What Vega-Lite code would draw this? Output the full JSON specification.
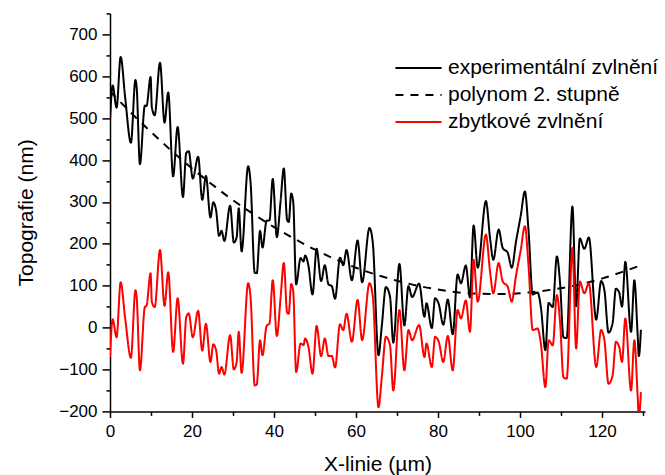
{
  "$schema": "https://vega.github.io/schema/vega-lite/v6.json",
  "width": 535,
  "height": 398,
  "autosize": {"type": "none"},
  "padding": {"left": 110, "top": 13.4, "right": 20, "bottom": 63.6},
  "background": "white",
  "config": {
    "view": {"stroke": null},
    "font": "Liberation Sans",
    "axis": {
      "grid": false,
      "domainColor": "black",
      "domainWidth": 1.5,
      "tickColor": "black",
      "tickWidth": 1.5,
      "labelColor": "black",
      "labelFont": "Liberation Sans",
      "labelFontSize": 17,
      "labelFlush": false,
      "labelOverlap": false,
      "titleColor": "black",
      "titleFont": "Liberation Sans",
      "titleFontSize": 21,
      "titleFontWeight": "normal"
    },
    "legend": {
      "orient": "none",
      "legendX": 298,
      "legendY": 44,
      "title": null,
      "labelFont": "Liberation Sans",
      "labelFontSize": 21,
      "labelColor": "black",
      "labelLimit": 400,
      "symbolType": "M-4,0L4,0",
      "symbolSize": 133,
      "symbolStrokeWidth": 2,
      "labelOffset": 19,
      "rowPadding": 5
    }
  },
  "datasets": {
    "exp": [
      {"x": 0, "y": 494}, {"x": 0.65, "y": 578}, {"x": 1.6, "y": 525}, {"x": 2.6, "y": 646}, {"x": 3.7, "y": 549},
      {"x": 5.1, "y": 441}, {"x": 6.2, "y": 591}, {"x": 6.5, "y": 574}, {"x": 7.3, "y": 390}, {"x": 8.5, "y": 530},
      {"x": 8.9, "y": 529}, {"x": 9.9, "y": 598}, {"x": 10.2, "y": 527}, {"x": 10.9, "y": 507}, {"x": 12.2, "y": 632},
      {"x": 13.3, "y": 489}, {"x": 14.2, "y": 561}, {"x": 15.4, "y": 361}, {"x": 16.5, "y": 479}, {"x": 17.8, "y": 312},
      {"x": 18.6, "y": 417}, {"x": 19.2, "y": 421}, {"x": 20.2, "y": 356}, {"x": 21.5, "y": 408}, {"x": 22.5, "y": 305},
      {"x": 23.4, "y": 362}, {"x": 24.5, "y": 263}, {"x": 25.2, "y": 299}, {"x": 25.9, "y": 279}, {"x": 26.6, "y": 219},
      {"x": 27.2, "y": 231}, {"x": 27.9, "y": 207}, {"x": 29.3, "y": 291}, {"x": 30.2, "y": 203}, {"x": 30.9, "y": 216},
      {"x": 31.4, "y": 285}, {"x": 32.1, "y": 182}, {"x": 33.7, "y": 385}, {"x": 34.3, "y": 345}, {"x": 35.3, "y": 131},
      {"x": 35.8, "y": 130}, {"x": 36.6, "y": 231}, {"x": 37.2, "y": 191}, {"x": 38.2, "y": 255}, {"x": 38.9, "y": 256},
      {"x": 39.7, "y": 355}, {"x": 40.7, "y": 216}, {"x": 41.6, "y": 301}, {"x": 42.4, "y": 380}, {"x": 43.2, "y": 257},
      {"x": 43.6, "y": 252}, {"x": 44.2, "y": 320}, {"x": 44.7, "y": 299}, {"x": 45.4, "y": 103}, {"x": 46.5, "y": 166},
      {"x": 47.2, "y": 158}, {"x": 47.6, "y": 172}, {"x": 48.4, "y": 148}, {"x": 49.4, "y": 79}, {"x": 50.4, "y": 188},
      {"x": 51.5, "y": 111}, {"x": 52.4, "y": 149}, {"x": 53.3, "y": 103}, {"x": 54.1, "y": 99}, {"x": 54.9, "y": 69},
      {"x": 56.1, "y": 167}, {"x": 56.9, "y": 149}, {"x": 57.7, "y": 185}, {"x": 59.0, "y": 113}, {"x": 60.4, "y": 208},
      {"x": 61.5, "y": 108}, {"x": 63.3, "y": 238}, {"x": 64.1, "y": 203}, {"x": 65.5, "y": -66}, {"x": 66.3, "y": 4},
      {"x": 67.3, "y": 97}, {"x": 68.3, "y": 74}, {"x": 69.1, "y": -36}, {"x": 70.6, "y": 152}, {"x": 71.8, "y": 5},
      {"x": 72.8, "y": 99}, {"x": 73.7, "y": 73}, {"x": 75.4, "y": 105}, {"x": 76.7, "y": 26}, {"x": 77.2, "y": 58},
      {"x": 78.5, "y": -1}, {"x": 79.3, "y": 70}, {"x": 80.2, "y": 56}, {"x": 81.3, "y": 7}, {"x": 82.4, "y": 67},
      {"x": 83.6, "y": -16}, {"x": 84.8, "y": 127}, {"x": 85.6, "y": 106}, {"x": 86.8, "y": 148}, {"x": 87.8, "y": 72},
      {"x": 88.7, "y": 244}, {"x": 89.7, "y": 143}, {"x": 91.7, "y": 302}, {"x": 92.7, "y": 214}, {"x": 93.5, "y": 162},
      {"x": 94.8, "y": 234}, {"x": 95.8, "y": 190}, {"x": 97.0, "y": 179}, {"x": 98.0, "y": 143}, {"x": 99.0, "y": 203},
      {"x": 100.2, "y": 268}, {"x": 101.2, "y": 325}, {"x": 102.1, "y": 230}, {"x": 103.1, "y": 79}, {"x": 104.3, "y": 84},
      {"x": 105.1, "y": 49}, {"x": 106.2, "y": -54}, {"x": 107.0, "y": 59}, {"x": 108.0, "y": 49}, {"x": 109.0, "y": 170},
      {"x": 109.8, "y": 104}, {"x": 110.6, "y": -23}, {"x": 111.4, "y": -25}, {"x": 112.8, "y": 289}, {"x": 113.7, "y": 51},
      {"x": 114.6, "y": 213}, {"x": 115.7, "y": 188}, {"x": 116.8, "y": 215}, {"x": 118.6, "y": 19}, {"x": 119.8, "y": 111},
      {"x": 120.6, "y": 89}, {"x": 121.6, "y": -12}, {"x": 122.6, "y": 11}, {"x": 123.4, "y": 93}, {"x": 124.2, "y": 84},
      {"x": 124.9, "y": 50}, {"x": 125.7, "y": 157}, {"x": 127.1, "y": -10}, {"x": 127.9, "y": 113}, {"x": 128.7, "y": -16},
      {"x": 129.0, "y": -68}, {"x": 129.5, "y": -5}
    ],
    "poly": [
      {"x": 0, "y": 564}, {"x": 5, "y": 514}, {"x": 10, "y": 467}, {"x": 15, "y": 422}, {"x": 20, "y": 380},
      {"x": 25, "y": 341}, {"x": 30, "y": 304}, {"x": 35, "y": 271}, {"x": 40, "y": 240}, {"x": 45, "y": 212},
      {"x": 50, "y": 186}, {"x": 55, "y": 163}, {"x": 60, "y": 143}, {"x": 65, "y": 126}, {"x": 70, "y": 112},
      {"x": 75, "y": 100}, {"x": 80, "y": 91}, {"x": 85, "y": 84}, {"x": 90, "y": 81}, {"x": 95, "y": 80},
      {"x": 100, "y": 82}, {"x": 105, "y": 87}, {"x": 110, "y": 94}, {"x": 115, "y": 104}, {"x": 120, "y": 117},
      {"x": 125, "y": 133}, {"x": 129.5, "y": 149}
    ],
    "res": [
      {"x": 0, "y": -70}, {"x": 0.65, "y": 20}, {"x": 1.6, "y": -23}, {"x": 2.6, "y": 108}, {"x": 3.7, "y": 22},
      {"x": 5.1, "y": -72}, {"x": 6.2, "y": 89}, {"x": 6.5, "y": 74}, {"x": 7.3, "y": -102}, {"x": 8.5, "y": 49},
      {"x": 8.9, "y": 52}, {"x": 9.9, "y": 130}, {"x": 10.2, "y": 62}, {"x": 10.9, "y": 49}, {"x": 12.2, "y": 185},
      {"x": 13.3, "y": 52}, {"x": 14.2, "y": 132}, {"x": 15.4, "y": -58}, {"x": 16.5, "y": 70}, {"x": 17.8, "y": -86},
      {"x": 18.6, "y": 25}, {"x": 19.2, "y": 34}, {"x": 20.2, "y": -23}, {"x": 21.5, "y": 40}, {"x": 22.5, "y": -55},
      {"x": 23.4, "y": 9}, {"x": 24.5, "y": -82}, {"x": 25.2, "y": -40}, {"x": 25.9, "y": -55}, {"x": 26.6, "y": -110},
      {"x": 27.2, "y": -94}, {"x": 27.9, "y": -112}, {"x": 29.3, "y": -18}, {"x": 30.2, "y": -100}, {"x": 30.9, "y": -82},
      {"x": 31.4, "y": -10}, {"x": 32.1, "y": -108}, {"x": 33.7, "y": 106}, {"x": 34.3, "y": 70}, {"x": 35.3, "y": -138},
      {"x": 35.8, "y": -136}, {"x": 36.6, "y": -30}, {"x": 37.2, "y": -66}, {"x": 38.2, "y": 4}, {"x": 38.9, "y": 10},
      {"x": 39.7, "y": 113}, {"x": 40.7, "y": -20}, {"x": 41.6, "y": 70}, {"x": 42.4, "y": 154}, {"x": 43.2, "y": 36},
      {"x": 43.6, "y": 33}, {"x": 44.2, "y": 104}, {"x": 44.7, "y": 86}, {"x": 45.4, "y": -106}, {"x": 46.5, "y": -38},
      {"x": 47.2, "y": -42}, {"x": 47.6, "y": -26}, {"x": 48.4, "y": -46}, {"x": 49.4, "y": -110}, {"x": 50.4, "y": 4},
      {"x": 51.5, "y": -68}, {"x": 52.4, "y": -26}, {"x": 53.3, "y": -68}, {"x": 54.1, "y": -68}, {"x": 54.9, "y": -95},
      {"x": 56.1, "y": 8}, {"x": 56.9, "y": -6}, {"x": 57.7, "y": 33}, {"x": 59.0, "y": -34}, {"x": 60.4, "y": 66},
      {"x": 61.5, "y": -30}, {"x": 63.3, "y": 106}, {"x": 64.1, "y": 74}, {"x": 65.5, "y": -190}, {"x": 66.3, "y": -118},
      {"x": 67.3, "y": -22}, {"x": 68.3, "y": -42}, {"x": 69.1, "y": -150}, {"x": 70.6, "y": 42}, {"x": 71.8, "y": -102},
      {"x": 72.8, "y": -6}, {"x": 73.7, "y": -30}, {"x": 75.4, "y": 6}, {"x": 76.7, "y": -70}, {"x": 77.2, "y": -38},
      {"x": 78.5, "y": -94}, {"x": 79.3, "y": -22}, {"x": 80.2, "y": -34}, {"x": 81.3, "y": -82}, {"x": 82.4, "y": -20},
      {"x": 83.6, "y": -102}, {"x": 84.8, "y": 42}, {"x": 85.6, "y": 22}, {"x": 86.8, "y": 65}, {"x": 87.8, "y": -10},
      {"x": 88.7, "y": 162}, {"x": 89.7, "y": 62}, {"x": 91.7, "y": 222}, {"x": 92.7, "y": 134}, {"x": 93.5, "y": 82},
      {"x": 94.8, "y": 154}, {"x": 95.8, "y": 110}, {"x": 97.0, "y": 98}, {"x": 98.0, "y": 62}, {"x": 99.0, "y": 122},
      {"x": 100.2, "y": 186}, {"x": 101.2, "y": 242}, {"x": 102.1, "y": 146}, {"x": 103.1, "y": -6}, {"x": 104.3, "y": -2},
      {"x": 105.1, "y": -38}, {"x": 106.2, "y": -142}, {"x": 107.0, "y": -30}, {"x": 108.0, "y": -42}, {"x": 109.0, "y": 78},
      {"x": 109.8, "y": 10}, {"x": 110.6, "y": -118}, {"x": 111.4, "y": -122}, {"x": 112.8, "y": 190}, {"x": 113.7, "y": -50},
      {"x": 114.6, "y": 110}, {"x": 115.7, "y": 82}, {"x": 116.8, "y": 106}, {"x": 118.6, "y": -94}, {"x": 119.8, "y": -6},
      {"x": 120.6, "y": -30}, {"x": 121.6, "y": -134}, {"x": 122.6, "y": -114}, {"x": 123.4, "y": -34}, {"x": 124.2, "y": -46},
      {"x": 124.9, "y": -82}, {"x": 125.7, "y": 22}, {"x": 127.1, "y": -150}, {"x": 127.9, "y": -30}, {"x": 128.7, "y": -162},
      {"x": 129.0, "y": -215}, {"x": 129.5, "y": -154}
    ]
  },
  "encoding": {
    "x": {
      "field": "x",
      "type": "quantitative",
      "scale": {"domain": [0, 130.5], "nice": false, "zero": false},
      "axis": {
        "title": "X-linie (µm)",
        "values": [0, 10, 20, 30, 40, 50, 60, 70, 80, 90, 100, 110, 120, 130],
        "labelExpr": "datum.value % 20 === 0 ? datum.label : ''",
        "tickSize": {"condition": {"test": "datum.value % 20 === 0", "value": 6}, "value": 4},
        "labelPadding": 6,
        "titlePadding": 14
      }
    },
    "y": {
      "field": "y",
      "type": "quantitative",
      "scale": {"domain": [-200, 750], "nice": false, "zero": false},
      "axis": {
        "title": "Topografie (nm)",
        "values": [-200, -150, -100, -50, 0, 50, 100, 150, 200, 250, 300, 350, 400, 450, 500, 550, 600, 650, 700, 750],
        "labelExpr": "datum.value % 100 === 0 ? datum.label : ''",
        "tickSize": {"condition": {"test": "datum.value % 100 === 0", "value": 8}, "value": 4},
        "labelPadding": 5,
        "titlePadding": 22
      }
    }
  },
  "layer": [
    {
      "data": {"name": "exp"},
      "mark": {"type": "line", "interpolate": "monotone", "strokeWidth": 2, "clip": true},
      "encoding": {
        "color": {"datum": "experimentální zvlnění", "type": "nominal", "scale": {"domain": ["experimentální zvlnění", "polynom 2. stupně", "zbytkové zvlnění"], "range": ["black", "black", "#ff0000"]}},
        "strokeDash": {"datum": "experimentální zvlnění", "type": "nominal", "scale": {"domain": ["experimentální zvlnění", "polynom 2. stupně", "zbytkové zvlnění"], "range": [[1, 0], [8, 7], [1, 0]]}}
      }
    },
    {
      "data": {"name": "poly"},
      "mark": {"type": "line", "interpolate": "monotone", "strokeWidth": 2, "clip": true},
      "encoding": {
        "color": {"datum": "polynom 2. stupně", "type": "nominal"},
        "strokeDash": {"datum": "polynom 2. stupně", "type": "nominal"}
      }
    },
    {
      "data": {"name": "res"},
      "mark": {"type": "line", "interpolate": "monotone", "strokeWidth": 2, "clip": true},
      "encoding": {
        "color": {"datum": "zbytkové zvlnění", "type": "nominal"},
        "strokeDash": {"datum": "zbytkové zvlnění", "type": "nominal"}
      }
    }
  ]
}
